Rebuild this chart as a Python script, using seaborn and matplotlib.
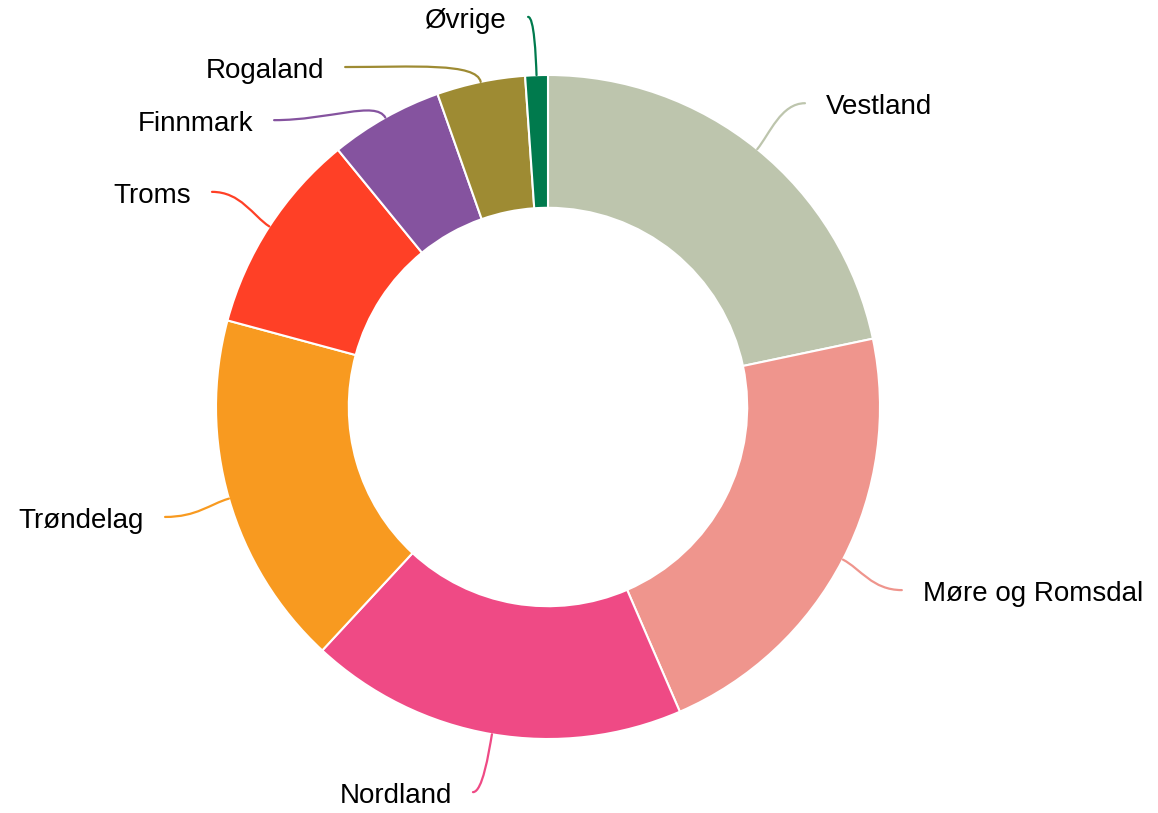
import numpy as np
import matplotlib
matplotlib.use("Agg")
import matplotlib.pyplot as plt
from matplotlib.path import Path
from matplotlib.patches import PathPatch
import seaborn as sns

# data (share of total, clockwise from 12 o'clock)
regions = ["Vestland", "Møre og Romsdal", "Nordland", "Trøndelag",
           "Troms", "Finnmark", "Rogaland", "Øvrige"]
shares = [21.7, 21.8, 18.4, 17.3, 9.9, 5.5, 4.3, 1.1]
colors = ["#BDC5AD", "#EF958D", "#EF4A85", "#F89A20",
          "#FF4026", "#85539F", "#9E8B33", "#007A4D"]

# label anchors moved off the radial line (axes units, R = 1)
label_at = {"Vestland": (0.774, 0.915),
            "Nordland": (-0.226, -1.160),
            "Troms": (-1.012, 0.648),
            "Finnmark": (-0.825, 0.864),
            "Rogaland": (-0.611, 1.024),
            "Øvrige": (-0.060, 1.175)}

sns.set_theme(style="white")
plt.rcParams["font.family"] = ["Liberation Sans", "DejaVu Sans"]

fig = plt.figure(figsize=(11.58, 8.13), dpi=100)
ax = fig.add_axes([0, 0, 1, 1])

ax.pie(shares, colors=colors, startangle=90, counterclock=False, radius=1,
       wedgeprops=dict(width=0.4, edgecolor="white", linewidth=1.5))

px = 1 / 332  # one pixel in axes units
total = sum(shares)
cum = np.cumsum(shares)
for name, v, c, cu in zip(regions, shares, colors, cum):
    th = np.radians(360 * (cu - v / 2) / total)
    touch = np.array([np.sin(th), np.cos(th)])
    end = np.array(label_at.get(name, touch * 1.2))
    side = 1 if end[0] > 0 else -1
    dist = np.hypot(*(end - touch))
    c1 = touch * (1 + min(0.45 * dist, 20 * px))
    dx = abs(end[0] - touch[0])
    c2 = end - np.array([side * max(0.5 * dx, 6 * px), 0])
    verts = [touch, c1, c2, end]
    codes = [Path.MOVETO, Path.CURVE4, Path.CURVE4, Path.CURVE4]
    ax.add_patch(PathPatch(Path(verts, codes), fc="none", ec=c, lw=1.6,
                           capstyle="round"))
    ax.text(end[0] + side * 21 * px, end[1] - 4 * px, name,
            ha="left" if side > 0 else "right", va="center",
            fontsize=20, color="black")

ax.set_xlim(-548 * px, (1158 - 548) * px)
ax.set_ylim(-(813 - 407) * px, 407 * px)
ax.set_aspect("equal")
ax.axis("off")

fig.savefig("out.png", dpi=100)
